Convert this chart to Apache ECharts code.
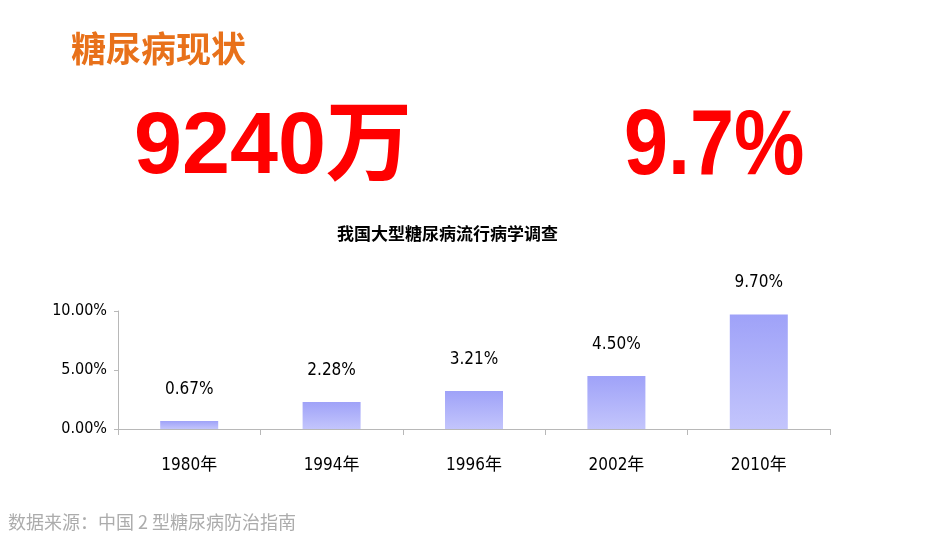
<!DOCTYPE html>
<html>
<head>
<meta charset="utf-8">
<script src="https://cdn.jsdelivr.net/npm/echarts@6/dist/echarts.min.js"></script>
<style>
html,body{margin:0;padding:0;background:#fff;}
#main{width:950px;height:535px;}
</style>
</head>
<body>
<div id="main"></div>
<script>
var categories = ['1980年', '1994年', '1996年', '2002年', '2010年'];
var prevalence = [0.67, 2.28, 3.21, 4.50, 9.70];
var yTicks = [0, 5, 10];

var narrow = '"DejaVu Sans Condensed", "Noto Sans CJK SC", sans-serif';
var chart = echarts.init(document.getElementById('main'));
chart.setOption({
  backgroundColor: '#ffffff',
  animation: false,
  title: [
    { text: '糖尿病现状', left: 66, top: 26,
      textStyle: { color: '#e8711a', fontSize: 35, fontWeight: 'bold', fontFamily: '"Noto Sans CJK SC", sans-serif' } },
    { text: '我国大型糖尿病流行病学调查', left: 332, top: 220,
      textStyle: { color: '#000', fontSize: 17, fontWeight: 'bold', fontFamily: '"Noto Sans CJK SC", sans-serif' } },
    { text: '数据来源：中国 2 型糖尿病防治指南', left: 3, top: 508,
      textStyle: { color: '#acacac', fontSize: 18, fontWeight: 'normal', fontFamily: '"Noto Sans CJK SC", sans-serif' } }
  ],
  graphic: [
    { type: 'text', x: 134, y: 105, scaleX: 0.98,
      style: { text: '9240万', fill: '#ff0000', verticalAlign: 'top',
        font: 'bold 88px "Liberation Sans", "Noto Sans CJK SC", sans-serif' } },
    { type: 'text', x: 624, y: 103, scaleX: 0.86,
      style: { text: '9.7%', fill: '#ff0000', verticalAlign: 'top',
        font: 'bold 92px "Liberation Sans", sans-serif' } }
  ],
  grid: { left: 118, right: 120, top: 311, bottom: 106, containLabel: false },
  xAxis: {
    type: 'category',
    data: categories,
    axisLine: { show: true, lineStyle: { color: '#b8b8b8', width: 1 } },
    axisTick: { show: true, length: 6, lineStyle: { color: '#b8b8b8' } },
    axisLabel: { color: '#000', fontSize: 17, margin: 28, fontFamily: narrow }
  },
  yAxis: {
    type: 'value',
    min: yTicks[0], max: yTicks[yTicks.length - 1], interval: yTicks[1] - yTicks[0],
    axisLine: { show: true, lineStyle: { color: '#b8b8b8', width: 1 } },
    axisTick: { show: true, length: 4, lineStyle: { color: '#b8b8b8' } },
    splitLine: { show: false },
    axisLabel: { color: '#000', fontSize: 16, margin: 11, fontFamily: narrow,
      formatter: function (v) { return v.toFixed(2) + '%'; } }
  },
  series: [{
    type: 'bar',
    data: prevalence,
    barWidth: 58,
    itemStyle: {
      color: new echarts.graphic.LinearGradient(0, 0, 0, 1, [
        { offset: 0, color: '#9fa2f8' },
        { offset: 1, color: '#c3c5fc' }
      ])
    },
    label: {
      show: true, position: 'top', distance: 23,
      color: '#000', fontSize: 17, fontFamily: narrow,
      formatter: function (p) { return p.value.toFixed(2) + '%'; }
    }
  }]
});
</script>
</body>
</html>
